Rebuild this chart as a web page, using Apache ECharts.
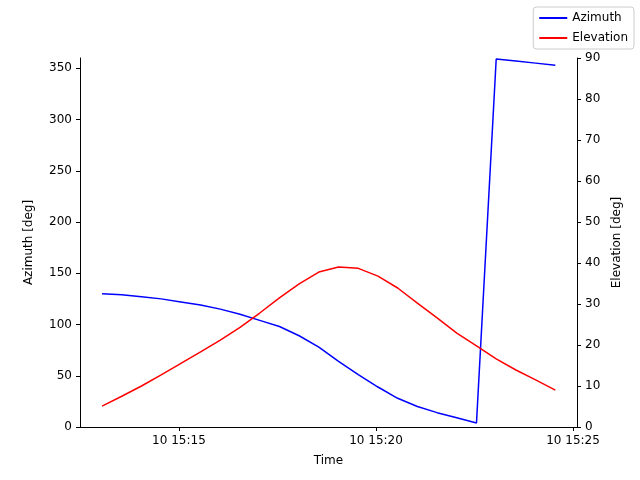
<!DOCTYPE html>
<html><head><meta charset="utf-8">
<script src="https://cdn.jsdelivr.net/npm/echarts@6/dist/echarts.min.js"></script>
<style>body{margin:0}#c{width:640px;height:480px}</style></head>
<body><div id="c"></div>
<script>
const times = ["15:13:03","15:13:33","15:14:03","15:14:33","15:15:03","15:15:33","15:16:03","15:16:33","15:17:03","15:17:33","15:18:03","15:18:33","15:19:03","15:19:33","15:20:03","15:20:33","15:21:03","15:21:33","15:22:03","15:22:33","15:23:03","15:23:33","15:24:03","15:24:33"];
const azimuth = [130,129,127,125,122,119,115,110,104,98,89,78,64,51,39,28,20,14,9,4,359,357,355,353];
const elevation = [5.1,7.5,10.0,12.7,15.5,18.3,21.2,24.3,27.8,31.5,34.9,37.8,39.0,38.7,36.8,33.9,30.2,26.6,22.9,19.8,16.6,13.9,11.5,9.0];
const xTicks = [15,20,25];
const toMin = s => { const p = s.split(':').map(Number); return (p[0]-15)*60 + p[1] + p[2]/60; };
const font = {fontFamily:'DejaVu Sans', fontSize:12, color:'#000'};
const chart = echarts.init(document.getElementById('c'));
const ax = {axisLine:{show:true,lineStyle:{color:'#000'}},axisTick:{show:true,length:4,lineStyle:{color:'#000'}},splitLine:{show:false},axisLabel:{...font}, nameTextStyle:{...font}};
chart.setOption({
  animation:false,
  grid:{left:80,right:63,top:58,bottom:53},
  legend:{right:6,top:7,orient:'vertical',itemWidth:28,itemHeight:2,itemGap:8,
    textStyle:{...font},icon:'rect',
    backgroundColor:'#fff',borderColor:'#ccc',borderWidth:1,borderRadius:3,padding:[5,6]},
  xAxis:{type:'value',min:12.49,max:25.1,...ax,name:'Time',nameLocation:'middle',nameGap:28,
    axisTick:{show:true,length:4,lineStyle:{color:'#000'},customValues:xTicks},
    axisLabel:{...font,customValues:xTicks,formatter:v=>'10 15:'+String(Math.round(v)).padStart(2,'0')}},
  yAxis:[
    {type:'value',min:0,max:360,interval:50,...ax,name:'Azimuth [deg]',nameLocation:'middle',nameGap:45,
      axisLabel:{...font,showMaxLabel:false}},
    {type:'value',min:0,max:90,interval:10,position:'right',...ax,name:'Elevation [deg]',nameLocation:'middle',nameGap:32}
  ],
  series:[
    {name:'Azimuth',type:'line',yAxisIndex:0,showSymbol:false,lineStyle:{color:'#0000ff',width:1.5},itemStyle:{color:'#0000ff'},
     data:times.map((t,i)=>[toMin(t),azimuth[i]])},
    {name:'Elevation',type:'line',yAxisIndex:1,showSymbol:false,lineStyle:{color:'#ff0000',width:1.5},itemStyle:{color:'#ff0000'},
     data:times.map((t,i)=>[toMin(t),elevation[i]])}
  ]
});
</script></body></html>
